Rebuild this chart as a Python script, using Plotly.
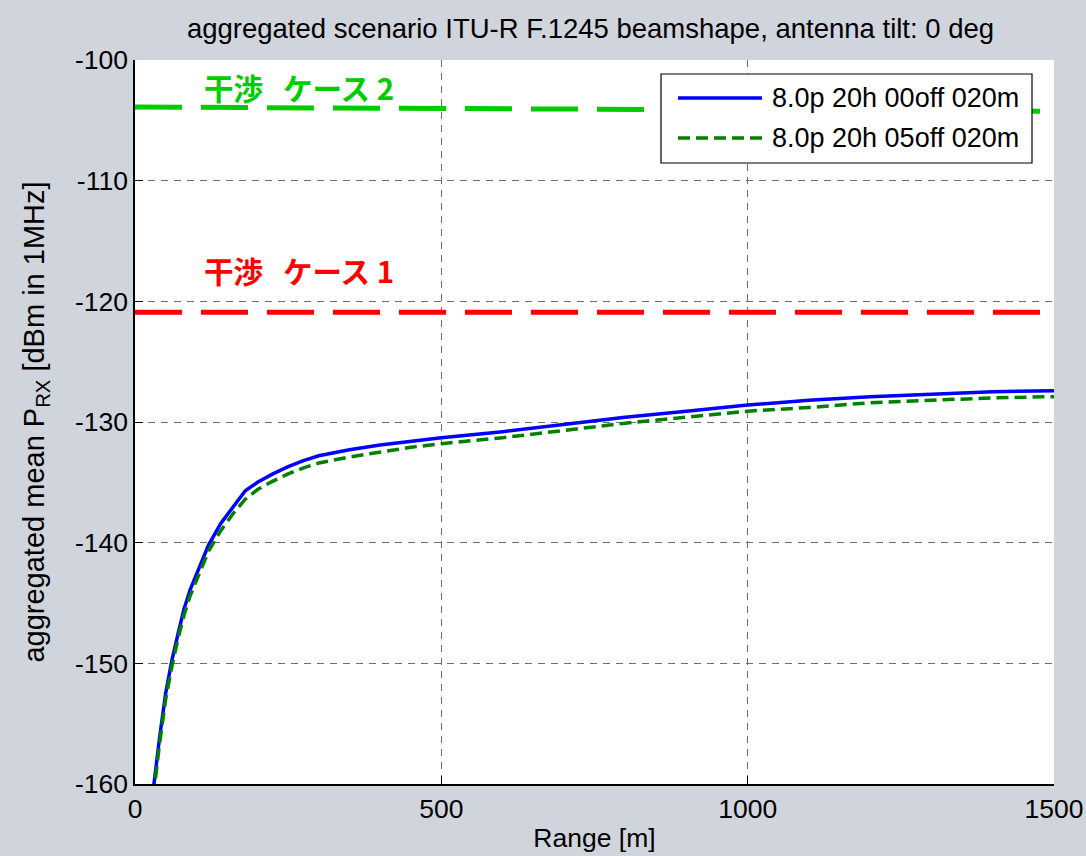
import plotly.graph_objects as go

# ---- data ----
range_m = [30, 35, 40, 50, 60, 70, 80, 90, 100, 120, 140, 160, 180, 200, 225, 250, 275, 300,
           350, 400, 450, 500, 600, 700, 800, 900, 1000, 1100, 1200, 1300, 1400, 1500]
prx_00off = [-160.4, -158.0, -156.2, -152.5, -149.8, -147.6, -145.5, -143.9, -142.6, -140.2,
             -138.4, -137.0, -135.7, -135.0, -134.3, -133.7, -133.2, -132.8, -132.3, -131.9,
             -131.6, -131.3, -130.8, -130.2, -129.6, -129.1, -128.6, -128.2, -127.9, -127.7,
             -127.5, -127.4]
prx_05off = [-161.0, -158.5, -156.7, -153.0, -150.3, -148.0, -146.0, -144.4, -143.1, -140.7,
             -139.0, -137.6, -136.4, -135.6, -134.9, -134.3, -133.8, -133.4, -132.9, -132.5,
             -132.1, -131.8, -131.3, -130.7, -130.1, -129.6, -129.1, -128.8, -128.4, -128.2,
             -128.0, -127.9]
series_names = ["8.0p 20h 00off 020m", "8.0p 20h 05off 020m"]

case_x = [0, 1500]
case2_y = [-103.9, -104.25]
case1_y = [-120.9, -120.9]
case_labels = ["干渉\u00a0\u00a0\u00a0ケース\u00a02", "干渉\u00a0\u00a0\u00a0ケース\u00a01"]

x_ticks = [0, 500, 1000, 1500]
y_ticks = [-160, -150, -140, -130, -120, -110, -100]

title_text = "aggregated scenario ITU-R F.1245 beamshape, antenna tilt: 0 deg"
x_title = "Range [m]"
y_title = "aggregated mean P<sub>RX</sub> [dBm in 1MHz]"

# ---- layout geometry (pixels) ----
W, H = 1086, 856
L, R, T, B = 135, 1054, 60, 784
def px(xp):
    return (xp - L) / (R - L)
def py(yp):
    return (B - yp) / (B - T)

FONT = "Liberation Sans, Arial, sans-serif"

fig = go.Figure()

fig.add_trace(go.Scatter(x=case_x, y=case2_y, mode="lines", showlegend=False,
                         line=dict(color="#00cc00", width=5, dash="47px,19px"), hoverinfo="skip"))
fig.add_trace(go.Scatter(x=case_x, y=case1_y, mode="lines", showlegend=False,
                         line=dict(color="#ff0000", width=5, dash="47px,19px"), hoverinfo="skip"))
fig.add_trace(go.Scatter(x=range_m, y=prx_00off, mode="lines", name=series_names[0], showlegend=False,
                         line=dict(color="#0000ff", width=3.5)))
fig.add_trace(go.Scatter(x=range_m, y=prx_05off, mode="lines", name=series_names[1], showlegend=False,
                         line=dict(color="#008000", width=3.5, dash="12px,6px")))

# case labels
fig.add_annotation(x=110, y=-102.2, xref="x", yref="y", text=case_labels[0], showarrow=False,
                   xanchor="left", yanchor="middle",
                   font=dict(family="Noto Sans CJK JP", size=29.5, color="#00cc00", weight="bold"))
fig.add_annotation(x=110, y=-117.4, xref="x", yref="y", text=case_labels[1], showarrow=False,
                   xanchor="left", yanchor="middle",
                   font=dict(family="Noto Sans CJK JP", size=29.5, color="#ff0000", weight="bold"))

# legend box
fig.add_shape(type="rect", xref="paper", yref="paper", x0=px(661), x1=px(1032), y0=py(163), y1=py(74),
              line=dict(color="black", width=1.2), fillcolor="white", layer="above")
fig.add_shape(type="line", xref="paper", yref="paper", x0=px(678), x1=px(762), y0=py(98), y1=py(98),
              line=dict(color="#0000ff", width=3.5), layer="above")
fig.add_shape(type="line", xref="paper", yref="paper", x0=px(678), x1=px(762), y0=py(138), y1=py(138),
              line=dict(color="#008000", width=3.5, dash="12px,6px"), layer="above")
for i, yy in enumerate([98, 138]):
    fig.add_annotation(x=px(770), y=py(yy), xref="paper", yref="paper", text=series_names[i],
                       showarrow=False, xanchor="left", yanchor="middle",
                       font=dict(family=FONT, size=27, color="black"))

axis_common = dict(
    showgrid=True, gridcolor="#6e6e6e", gridwidth=1.2, griddash="7px,6px",
    ticks="inside", ticklen=8, tickcolor="black", tickwidth=1,
    showline=True, linecolor="black", linewidth=1.5, mirror=False,
    zeroline=False, tickfont=dict(family=FONT, size=26.5, color="black"),
)

fig.update_layout(
    width=W, height=H,
    margin=dict(l=L, r=W - R, t=T, b=H - B, autoexpand=False),
    paper_bgcolor="#d0d4dc", plot_bgcolor="white",
    title=dict(text=title_text, x=(187 + 994) / 2 / W, xanchor="center", y=1 - 28 / H, yanchor="middle",
               font=dict(family=FONT, size=27.5, color="black")),
    xaxis=dict(range=[0, 1500], tickvals=x_ticks, ticktext=[str(v) for v in x_ticks],
               title=dict(text=x_title, font=dict(family=FONT, size=26.5, color="black"), standoff=6),
               **axis_common),
    yaxis=dict(range=[-160, -100], tickvals=y_ticks, ticktext=[str(v) for v in y_ticks],
               title=dict(text=y_title, font=dict(family=FONT, size=29, color="black"), standoff=22),
               **axis_common),
    showlegend=False,
)

fig.write_html("out.html", config={"displayModeBar": False},
               post_script="document.body.style.margin='0';document.body.style.padding='0';")
